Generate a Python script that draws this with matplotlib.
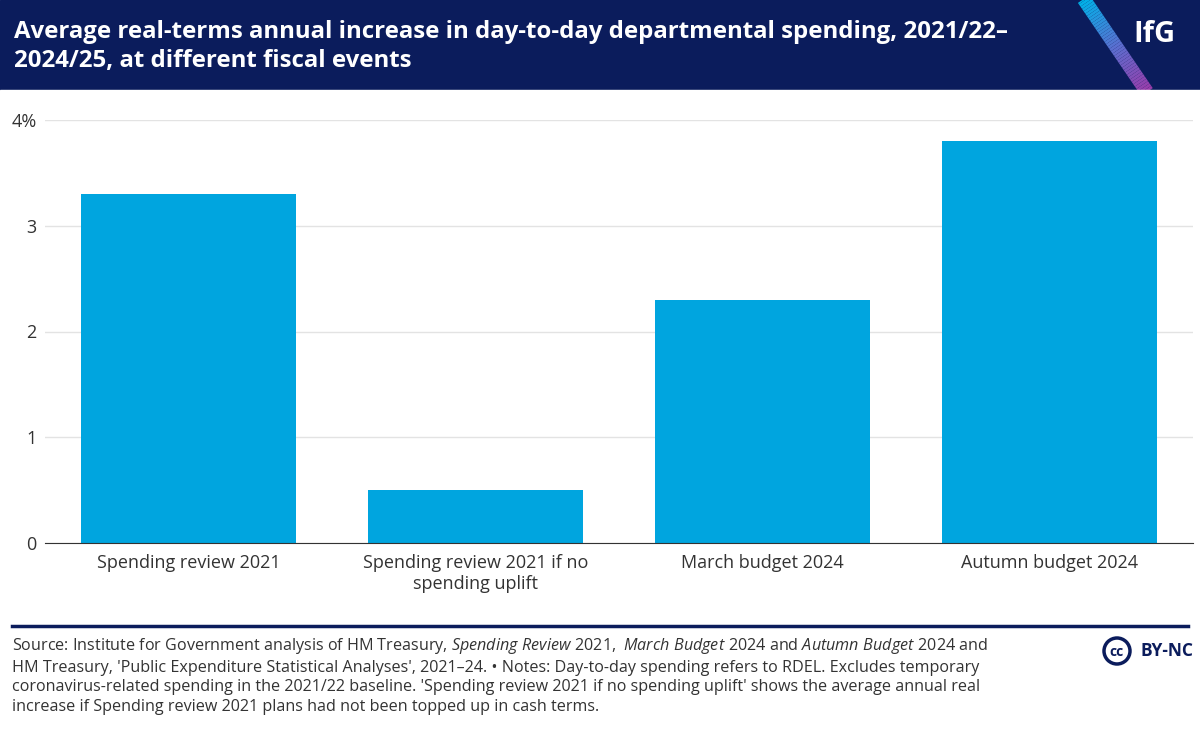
import numpy as np
import matplotlib.pyplot as plt
from matplotlib.patches import Rectangle, Ellipse
from matplotlib.colors import LinearSegmentedColormap

categories = ["Spending review 2021", "Spending review 2021 if no\nspending uplift",
              "March budget 2024", "Autumn budget 2024"]
values = [3.3, 0.5, 2.3, 3.8]
yticks = [0, 1, 2, 3, 4]
ytick_labels = ["0", "1", "2", "3", "4%"]

navy = "#0b1c5c"
bar_col = "#00a5df"
txt = "#333333"

plt.rcParams['font.family'] = ['Open Sans', 'DejaVu Sans']
plt.rcParams['mathtext.fontset'] = 'custom'
plt.rcParams['mathtext.it'] = 'Open Sans:italic'
plt.rcParams['mathtext.rm'] = 'Open Sans'
fig = plt.figure(figsize=(12, 7.33), dpi=100)

# header band
fig.patches.append(Rectangle((0, 1 - 90/733), 1, 90/733, transform=fig.transFigure,
                             color=navy, zorder=0))
fig.text(0.012, 1 - 20/733, "Average real-terms annual increase in day-to-day departmental spending, 2021/22–\n2024/25, at different fiscal events",
         color="white", fontsize=17.3, fontweight="bold", va="top", linespacing=1.3)
fig.text(0.962, 1 - 34/733, "IfG", color="white", fontsize=21, fontweight="bold", va="center", ha="center")

# gradient stripe
cmap = LinearSegmentedColormap.from_list("ifg", ["#00b2e8", "#5a6fd0", "#9b3aa8"])
n = 40
x0, y0, x1, y1 = 1083, -2, 1147, 92
for i in range(n):
    t0, t1 = i / n, (i + 1) / n
    fig.add_artist(plt.Line2D([(x0 + (x1 - x0) * t0) / 1200, (x0 + (x1 - x0) * t1) / 1200],
                              [1 - (y0 + (y1 - y0) * t0) / 733, 1 - (y0 + (y1 - y0) * t1) / 733],
                              color=cmap(t0), lw=10, solid_capstyle="butt"))
fig.patches.append(Rectangle((0, 1 - 95/733), 1, 5/733, transform=fig.transFigure,
                             color="white", zorder=5))

ax = fig.add_axes([45/1200, 1 - 543/733, 1148/1200, (543 - 120)/733])
x = np.arange(len(categories))
ax.bar(x, values, width=0.75, color=bar_col, zorder=2)
ax.set_xlim(-0.5, 3.5)
ax.set_ylim(0, 4)
ax.set_yticks(yticks)
ax.set_yticklabels(ytick_labels)
ax.set_xticks(x)
ax.set_xticklabels(categories)
ax.grid(axis="y", color="#e3e3e3", lw=1, zorder=0)
for s in ax.spines.values():
    s.set_visible(False)
ax.spines["bottom"].set_visible(True)
ax.spines["bottom"].set_color("#333333")
ax.tick_params(axis="y", length=0, labelsize=13, labelcolor=txt, pad=6)
ax.tick_params(axis="x", length=0, labelsize=13, labelcolor=txt, pad=8)

# footer
fig.add_artist(plt.Line2D([12/1200, 1188/1200], [1 - 626/733] * 2, color=navy, lw=2.5))
foot = ("Source: Institute for Government analysis of HM Treasury, $\\it{Spending\\ Review\\ 2021,\\ March\\ Budget\\ 2024}$ and $\\it{Autumn\\ Budget\\ 2024}$ and\n"
        "HM Treasury, 'Public Expenditure Statistical Analyses', 2021–24. • Notes: Day-to-day spending refers to RDEL. Excludes temporary\n"
        "coronavirus-related spending in the 2021/22 baseline. 'Spending review 2021 if no spending uplift' shows the average annual real\n"
        "increase if Spending review 2021 plans had not been topped up in cash terms.")
fig.text(12/1200, 1 - 636/733, foot, fontsize=11.6, color=txt, va="top", linespacing=1.3)
fig.add_artist(Ellipse((1117/1200, 1 - 651/733), 26/1200, 26/733, transform=fig.transFigure,
                       fill=False, ec=navy, lw=2.5))
fig.text(1117/1200, 1 - 652/733, "cc", fontsize=10, fontweight="bold", color=navy, ha="center", va="center")
fig.text(1140/1200, 1 - 651/733, "BY-NC", fontsize=12.5, fontweight="bold", color=navy, va="center")

fig.savefig("out.png", dpi=100, facecolor="white")
